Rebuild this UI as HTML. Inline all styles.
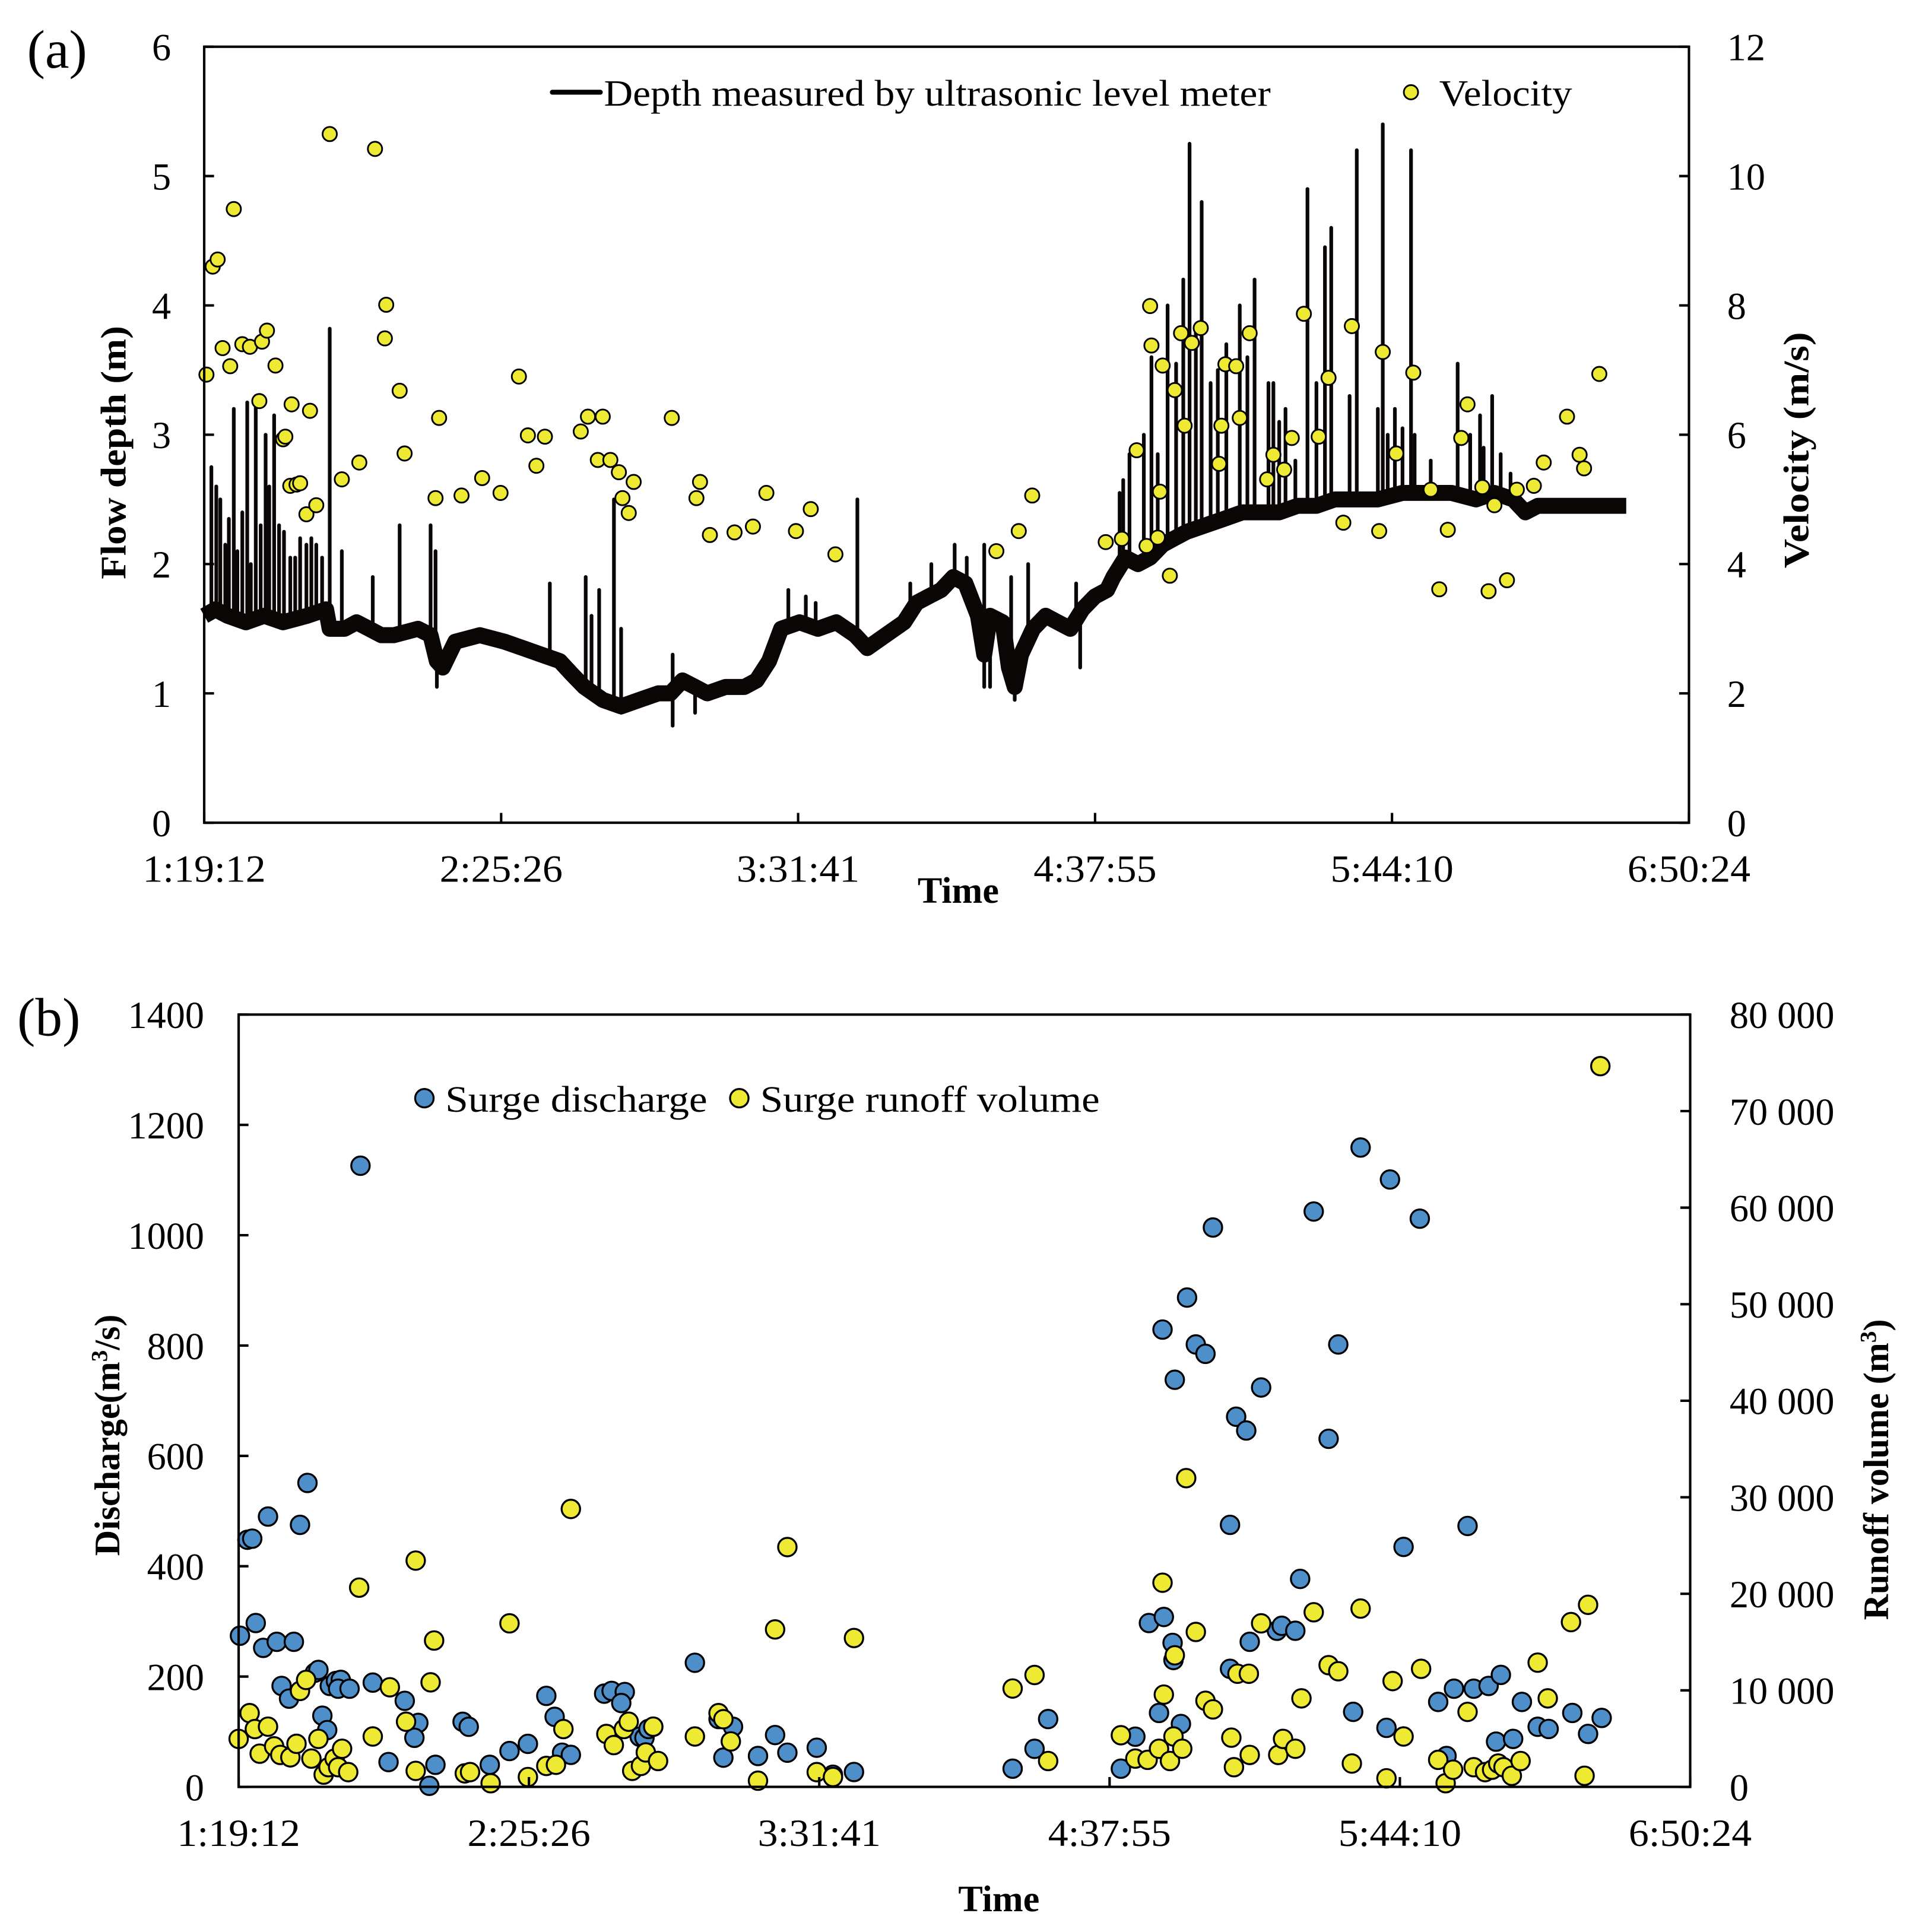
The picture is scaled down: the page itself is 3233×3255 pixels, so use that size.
<!DOCTYPE html>
<html><head><meta charset="utf-8"><style>
html,body{margin:0;padding:0;background:#fff;}
svg{display:block;}
text{font-family:"Liberation Serif","Times New Roman",serif;fill:#000;}
</style></head><body>
<svg id="fig" xmlns="http://www.w3.org/2000/svg" width="3233" height="3255" viewBox="0 0 1560 1571" preserveAspectRatio="none">
<g id="pa"></g>
<g id="pb"></g>
</svg>
<script>
// ---------- Panel (a) data (time in minutes after 1:19:12) ----------
const xTickLabels = ["1:19:12","2:25:26","3:31:41","4:37:55","5:44:10","6:50:24"];
const depthTicks = [0,1,2,3,4,5,6];
const velTicks = [0,2,4,6,8,10,12];
const baseT = [0,2.5,5.2,9.3,13.4,17.6,23.0,27.2,28.0,31.3,34.0,36.8,39.5,42.3,47.7,50.5,51.9,53.2,56.0,61.5,67.0,71.1,75.2,79.3,82.0,84.8,88.9,93.0,97.1,101.3,104.0,106.7,109.5,112.2,116.3,120.5,123.2,126.0,128.7,132.8,136.9,141.0,145.2,147.9,152.0,156.1,158.9,161.6,164.4,167.1,169.8,172.6,174.0,175.3,178.1,179.5,180.8,182.2,184.9,187.7,190.4,193.2,195.9,198.7,201.4,202.8,205.5,208.3,211.0,213.8,216.5,219.2,223.4,227.5,231.6,235.7,239.8,243.9,248.1,252.2,256.3,261.8,267.3,272.8,278.2,283.7,287.8,292.0,294.7,297.5,302.9,308.4,313.9,317.2];
const baseD = [1.6,1.65,1.6,1.55,1.6,1.55,1.6,1.65,1.5,1.5,1.55,1.5,1.45,1.45,1.5,1.45,1.25,1.2,1.4,1.45,1.4,1.35,1.3,1.25,1.15,1.05,0.95,0.9,0.95,1.0,1.0,1.1,1.05,1.0,1.05,1.05,1.1,1.25,1.5,1.55,1.5,1.55,1.45,1.35,1.45,1.55,1.7,1.75,1.8,1.9,1.85,1.6,1.3,1.6,1.55,1.2,1.05,1.3,1.5,1.6,1.55,1.5,1.65,1.75,1.8,1.9,2.05,2.0,2.05,2.15,2.2,2.25,2.3,2.35,2.4,2.4,2.4,2.45,2.45,2.5,2.5,2.5,2.55,2.55,2.55,2.5,2.55,2.5,2.4,2.45,2.45,2.45,2.45,2.45];
const spikeT = [1.6,2.7,3.6,4.7,5.5,6.6,7.4,8.5,9.6,10.4,11.5,12.6,13.7,14.5,15.6,16.7,17.8,19.2,20.3,21.4,22.8,23.9,25.0,26.3,28.0,30.7,37.6,43.6,50.5,51.6,77.1,85.1,86.4,88.1,91.4,93.0,104.5,130.3,134.2,136.4,145.7,157.5,162.2,167.4,170.1,174.0,180.0,183.8,194.5,204.2,205.0,206.4,209.6,211.3,212.7,214.9,216.8,218.4,219.8,221.2,222.5,224.5,226.1,228.0,231.0,232.7,234.3,237.4,238.5,239.8,241.2,243.4,246.1,248.1,250.0,251.4,255.5,257.1,261.8,262.9,264.0,265.6,267.3,269.2,270.0,273.6,279.6,282.4,284.6,285.4,287.3,289.2,291.4,292.5];
const spikeD = [2.75,2.6,2.5,2.15,2.35,3.2,2.1,2.4,3.25,2.0,3.3,2.3,3.0,2.6,3.15,2.3,2.25,2.05,2.05,2.2,2.15,2.2,2.15,2.05,3.82,2.1,1.9,2.3,2.3,2.1,1.85,1.9,1.6,1.8,2.5,1.5,1.3,1.8,1.75,1.7,2.5,1.85,2.0,2.15,2.05,2.15,1.9,2.0,1.85,2.55,2.65,2.85,3.0,3.6,2.85,4.0,3.55,4.2,5.25,3.8,4.8,3.4,3.5,3.7,4.0,3.6,4.2,3.4,3.4,3.1,3.2,2.8,4.9,3.4,4.45,4.6,3.3,5.2,3.2,5.4,3.0,3.2,3.05,5.2,3.0,2.8,3.55,3.0,3.15,2.9,3.3,2.85,2.7,2.6];
const dipT = [51.9,93.0,104.5,109.5,174.0,175.3,180.8,182.2,195.4];
const dipD = [1.05,0.85,0.75,0.85,1.05,1.05,0.95,1.05,1.2];
const velT = [0.5,1.9,3.0,4.1,5.8,6.6,8.5,10.2,12.3,12.9,14.0,15.9,17.6,18.1,19.5,19.2,20.6,21.4,22.8,23.6,25.0,28.0,30.7,34.6,38.1,40.3,40.6,43.6,44.7,51.6,52.4,57.4,62.0,66.1,70.2,72.2,74.1,76.0,84.0,85.6,88.9,87.8,90.6,92.5,93.3,94.7,95.8,104.3,109.8,110.6,112.8,118.3,122.4,125.4,132.0,135.3,140.8,176.7,181.7,184.7,201.1,204.7,208.0,210.2,211.0,211.3,212.7,213.2,213.8,215.4,216.5,217.9,218.7,220.3,222.3,226.4,226.9,227.8,230.2,231.0,233.2,237.1,238.5,240.9,242.6,245.3,248.6,250.8,254.1,256.0,262.1,262.9,265.9,269.7,273.6,275.5,277.4,280.4,281.8,285.1,286.5,287.8,290.6,292.8,296.6,298.8,304.0,306.8,307.8,311.2];
const velV = [6.93,8.6,8.71,7.34,7.06,9.49,7.4,7.36,6.52,7.44,7.61,7.07,5.93,5.97,6.47,5.21,5.23,5.25,4.77,6.37,4.91,10.65,5.31,5.57,10.42,7.49,8.01,6.68,5.71,5.02,6.26,5.06,5.33,5.1,6.9,5.99,5.52,5.97,6.05,6.28,6.28,5.61,5.61,5.42,5.02,4.79,5.27,6.26,5.02,5.27,4.45,4.49,4.58,5.1,4.51,4.85,4.15,4.2,4.51,5.06,4.34,4.39,5.76,4.28,7.99,7.38,4.41,5.12,7.07,3.82,6.69,7.57,6.14,7.42,7.65,5.55,6.14,7.09,7.06,6.26,7.57,5.31,5.69,5.46,5.95,7.87,5.97,6.88,4.64,7.68,4.51,7.28,5.71,6.96,5.15,3.61,4.53,5.95,6.47,5.19,3.58,4.91,3.75,5.15,5.21,5.57,6.28,5.69,5.48,6.94];

// ---------- Panel (b) data ----------
const qTicks = [0,200,400,600,800,1000,1200,1400];
const volTickLabels = ["0","10 000","20 000","30 000","40 000","50 000","60 000","70 000","80 000"];
const volTicks = [0,10000,20000,30000,40000,50000,60000,70000,80000];
const qT = [0.3,2.0,3.1,3.9,5.6,6.7,8.7,9.8,11.5,12.6,14.0,15.7,17.4,18.2,19.1,20.2,20.8,22.2,23.3,22.7,25.3,27.8,30.6,34.2,37.9,41.0,40.1,43.5,44.9,51.1,52.5,57.3,61.8,66.0,70.2,72.1,73.8,75.8,83.4,85.1,88.1,87.3,91.5,92.6,93.5,94.6,104.1,109.5,110.6,112.8,118.5,122.4,125.2,131.9,135.6,140.4,176.6,181.6,184.7,201.3,204.6,207.7,210.8,211.1,210.0,213.1,213.6,213.3,215.0,216.4,218.4,220.6,222.3,226.2,227.6,229.9,230.7,226.2,233.3,236.9,238.0,241.1,242.2,245.3,248.7,250.9,254.3,256.0,262.7,261.9,265.8,269.5,273.7,275.6,277.3,280.4,281.8,285.2,286.9,288.0,290.8,292.8,296.4,298.9,304.3,307.9,311.0];
const qV = [274,448,450,297,252,490,263,183,160,263,475,551,207,212,129,103,183,192,194,178,178,1126,189,45,156,116,89,2,40,118,109,40,65,78,165,127,62,58,169,174,172,152,91,89,105,109,225,123,53,109,56,94,62,71,22,27,33,69,123,33,91,297,829,308,134,261,738,230,114,887,802,785,1014,475,671,646,263,214,724,283,292,283,377,1043,631,802,136,1159,1101,107,435,1030,154,56,178,473,178,183,82,203,87,154,109,105,134,96,125];
const vT = [0,2.5,3.7,4.8,6.7,8.1,9.5,11.8,13.2,14.0,15.4,16.6,18.2,19.4,20.5,21.9,22.7,23.6,25.0,27.5,30.6,34.5,38.2,40.4,40.4,43.8,44.6,51.6,52.8,57.5,61.8,66.0,70.2,72.4,74.1,75.8,83.9,85.6,87.9,89.0,89.8,91.8,92.9,94.6,95.7,104.1,109.5,110.6,112.3,118.5,122.4,125.2,131.9,135.6,140.4,176.6,181.6,184.7,201.3,204.6,207.4,210.0,210.8,211.1,212.5,213.3,213.6,215.3,216.2,218.4,220.6,222.3,226.5,227.1,227.9,230.5,230.7,233.3,237.2,238.3,241.1,242.5,245.3,248.7,250.9,254.0,256.0,261.9,263.3,265.8,269.8,273.7,275.4,277.1,280.4,281.8,284.4,286.0,287.4,288.6,290.5,292.5,296.4,298.7,304.0,307.1,307.9,310.7];
const vV = [4970,7640,5990,3440,6240,4200,3310,3060,4460,9940,11080,2930,4970,1270,2040,2930,2040,3950,1530,20640,5220,10320,6750,1660,23440,10830,15160,1400,1530,380,16940,1020,2170,2290,5990,28790,5480,4330,5990,6750,1660,2170,3570,6240,2680,5220,7640,7010,4710,640,16310,24840,1530,1020,15420,10190,11590,2680,5350,2930,2800,3950,21150,9560,2680,5220,13630,3950,31980,16050,8920,8030,5100,2040,11720,11720,3310,16940,3310,4970,3950,9170,18090,12610,11980,2420,18470,890,10960,5220,12230,2800,380,1780,7770,2040,1530,1780,2420,2040,1150,2680,12870,9170,17070,1150,18860,74660];

const NS = "http://www.w3.org/2000/svg";
function mk(parent, tag, attrs, txt){
  const e = document.createElementNS(NS, tag);
  for (const k in attrs) e.setAttribute(k, attrs[k]);
  if (txt !== undefined) e.textContent = txt;
  parent.appendChild(e);
  return e;
}
const TMAX = 331.2;
const TICKFS = 31;

// ================= Panel A =================
(function(){
  const g = document.getElementById('pa');
  const L=166, R=1373, T=38, B=669;
  const xs = t => L + t/TMAX*(R-L);
  const yd = d => B - d/6*(B-T);
  const yv = v => B - v/12*(B-T);
  const baseAt = t => { for (let i=1;i<baseT.length;i++){ if (t<=baseT[i]){ const f=(t-baseT[i-1])/(baseT[i]-baseT[i-1]); return baseD[i-1]+f*(baseD[i]-baseD[i-1]); } } return baseD[baseD.length-1]; };

  let d = baseT.map((t,i)=>(i?'L':'M')+xs(t).toFixed(1)+' '+yd(baseD[i]).toFixed(1)).join(' ');
  const bl = mk(g,'path',{d:d, fill:'none', stroke:'#0a0606','stroke-width':13,'stroke-linejoin':'round','stroke-linecap':'butt'});
  
  
  const sp = mk(g,'g',{stroke:'#0a0606','stroke-width':3,'stroke-linecap':'round'});
  
  
  spikeT.forEach((t,i)=>{ mk(sp,'line',{x1:xs(t),x2:xs(t),y1:yd(baseAt(t)),y2:yd(spikeD[i])}); });
  dipT.forEach((t,i)=>{ mk(sp,'line',{x1:xs(t),x2:xs(t),y1:yd(baseAt(t)),y2:yd(dipD[i])}); });

  const vg = mk(g,'g',{fill:'#eee933',stroke:'#000','stroke-width':1.4});
  
  
  velT.forEach((t,i)=>{ const c=mk(vg,'circle',{cx:xs(t),cy:yv(velV[i]),r:5.8});
    
     });

  const fr = mk(g,'rect',{x:L,y:T,width:R-L,height:B-T,fill:'none',stroke:'#000','stroke-width':2});
  
  
  depthTicks.forEach(v=>{ const y=yd(v);
    mk(g,'line',{x1:L,x2:L+8,y1:y,y2:y,stroke:'#000','stroke-width':2});
    const tx=mk(g,'text',{x:139,y:y+11,'font-size':TICKFS,'text-anchor':'end'},String(v));
    
     });
  velTicks.forEach(v=>{ const y=yv(v);
    mk(g,'line',{x1:R-8,x2:R,y1:y,y2:y,stroke:'#000','stroke-width':2});
    const tx=mk(g,'text',{x:1404,y:y+11,'font-size':TICKFS},String(v));
    
     });
  xTickLabels.forEach((s,i)=>{ const x=L+i*(R-L)/5;
    mk(g,'line',{x1:x,x2:x,y1:B-8,y2:B,stroke:'#000','stroke-width':2});
    const tx=mk(g,'text',{x:x,y:717,'font-size':TICKFS,'text-anchor':'middle',textLength:100,lengthAdjust:'spacingAndGlyphs'},s);
    
     });
})();

// ================= Panel B =================
(function(){
  const g = document.getElementById('pb');
  const L=194, R=1374, T=825, B=1453;
  const xs = t => L + t/TMAX*(R-L);
  const yq = q => B - q/1400*(B-T);
  const yv = v => B - v/80000*(B-T);

  const qg = mk(g,'g',{fill:'#4f8fc9',stroke:'#000','stroke-width':1.6});
  
  
  qT.forEach((t,i)=>{ const c=mk(qg,'circle',{cx:xs(t),cy:yq(qV[i]),r:7.5});
    
     });
  const yg = mk(g,'g',{fill:'#eee933',stroke:'#000','stroke-width':1.6});
  
  
  vT.forEach((t,i)=>{ const c=mk(yg,'circle',{cx:xs(t),cy:yv(vV[i]),r:7.5});
    
     });

  const fr = mk(g,'rect',{x:L,y:T,width:R-L,height:B-T,fill:'none',stroke:'#000','stroke-width':2});
  
  
  qTicks.forEach(v=>{ const y=yq(v);
    mk(g,'line',{x1:L,x2:L+8,y1:y,y2:y,stroke:'#000','stroke-width':2});
    const tx=mk(g,'text',{x:166,y:y+11,'font-size':TICKFS,'text-anchor':'end'},String(v));
    
     });
  volTicks.forEach((v,i)=>{ const y=yv(v);
    mk(g,'line',{x1:R-8,x2:R,y1:y,y2:y,stroke:'#000','stroke-width':2});
    const tx=mk(g,'text',{x:1406,y:y+11,'font-size':TICKFS},volTickLabels[i]);
    
     });
  xTickLabels.forEach((s,i)=>{ const x=L+i*(R-L)/5;
    mk(g,'line',{x1:x,x2:x,y1:B-8,y2:B,stroke:'#000','stroke-width':2});
    const tx=mk(g,'text',{x:x,y:1501,'font-size':TICKFS,'text-anchor':'middle',textLength:100,lengthAdjust:'spacingAndGlyphs'},s);
    
     });
})();
</script>
<script>
(function(){
  const svg=document.getElementById('fig');
  const add=(tag,attrs,txt,name)=>{const e=document.createElementNS("http://www.w3.org/2000/svg",tag);for(const k in attrs)e.setAttribute(k,attrs[k]);if(txt!==undefined)e.textContent=txt;svg.appendChild(e);
    
    
    return e;};
  add('text',{x:22,y:55,'font-size':44},'(a)','panel-label-a');
  add('text',{x:14,y:842,'font-size':44},'(b)','panel-label-b');
  add('text',{x:779,y:734,'font-size':30,'font-weight':'bold','text-anchor':'middle'},'Time','x-axis-title-a');
  add('text',{x:812,y:1554,'font-size':30,'font-weight':'bold','text-anchor':'middle'},'Time','x-axis-title-b');
  add('text',{x:0,y:0,'font-size':29,'font-weight':'bold','text-anchor':'middle',textLength:206,lengthAdjust:'spacingAndGlyphs',transform:'translate(102,368) rotate(-90)'},'Flow depth (m)','y-axis-title-left-a');
  add('text',{x:0,y:0,'font-size':29,'font-weight':'bold','text-anchor':'middle',textLength:192,lengthAdjust:'spacingAndGlyphs',transform:'translate(1470,366) rotate(-90)'},'Velocity (m/s)','y-axis-title-right-a');
  const d=add('text',{x:0,y:0,'font-size':29,'font-weight':'bold','text-anchor':'middle',transform:'translate(97,1167) rotate(-90)'},'','y-axis-title-left-b');
  d.innerHTML='Discharge(m<tspan dy="-10" font-size="19">3</tspan><tspan dy="10">/s)</tspan>';
  const r=add('text',{x:0,y:0,'font-size':29,'font-weight':'bold','text-anchor':'middle',transform:'translate(1535,1195) rotate(-90)'},'','y-axis-title-right-b');
  r.innerHTML='Runoff volume (m<tspan dy="-10" font-size="19">3</tspan><tspan dy="10">)</tspan>';
  add('line',{x1:449,x2:488,y1:75,y2:75,stroke:'#000','stroke-width':4,'stroke-linecap':'round'},undefined,'legend-depth-line');
  add('text',{x:491,y:86,'font-size':30,textLength:542,lengthAdjust:'spacingAndGlyphs'},'Depth  measured by ultrasonic level meter','legend-depth-text');
  add('circle',{cx:1147,cy:75,r:5.8,fill:'#eee933',stroke:'#000','stroke-width':1.4},undefined,'legend-velocity-marker');
  add('text',{x:1170,y:86,'font-size':30,textLength:108,lengthAdjust:'spacingAndGlyphs'},'Velocity','legend-velocity-text');
  add('circle',{cx:345,cy:893,r:7.5,fill:'#4f8fc9',stroke:'#000','stroke-width':1.6},undefined,'legend-discharge-marker');
  add('text',{x:362,y:904,'font-size':30,textLength:213,lengthAdjust:'spacingAndGlyphs'},'Surge discharge','legend-discharge-text');
  add('circle',{cx:601,cy:893,r:7.5,fill:'#eee933',stroke:'#000','stroke-width':1.6},undefined,'legend-volume-marker');
  add('text',{x:618,y:904,'font-size':30,textLength:276,lengthAdjust:'spacingAndGlyphs'},'Surge runoff volume','legend-volume-text');
})();
</script>
</body></html>
